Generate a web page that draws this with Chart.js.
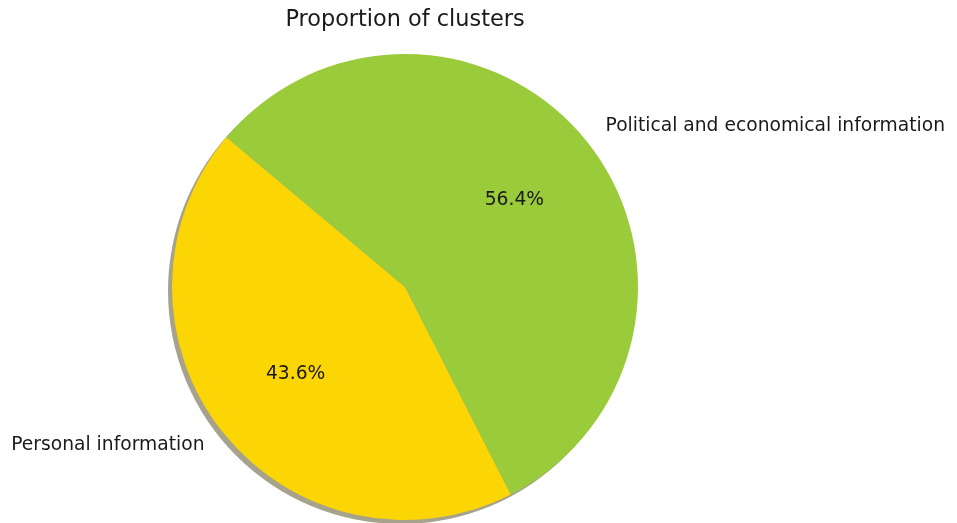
<!DOCTYPE html>
<html lang="en">
<head>
    <meta charset="UTF-8">
    <title>Proportion of clusters</title>
    <style>
        html, body { margin: 0; padding: 0; background: #ffffff; }
        #wrap { width: 957px; height: 523px; }
    </style>
</head>
<body>
    <div id="wrap"><canvas id="pieChart"></canvas></div>
    <script src="https://cdn.jsdelivr.net/npm/chart.js"></script>
    <script>
        // data
        const categories = ['Personal information', 'Political and economical information'];
        const shares = [43.6, 56.4];
        const sliceColors = ['#fcd505', '#9acb3b'];

        const FONT = "'DejaVu Sans', sans-serif";

        // grey drop shadow under the pie, offset left/down
        const shadowPlugin = {
            id: 'pieShadow',
            beforeDatasetsDraw(chart) {
                const arc = chart.getDatasetMeta(0).data[0];
                if (!arc) return;
                const ctx = chart.ctx;
                ctx.save();
                ctx.fillStyle = '#a7a28c';
                ctx.beginPath();
                ctx.arc(arc.x - 4, arc.y + 4, arc.outerRadius, 0, Math.PI * 2);
                ctx.fill();
                ctx.restore();
            }
        };

        // slice names outside (1.1 r) and percentages inside (0.6 r)
        const labelPlugin = {
            id: 'pieLabels',
            afterDatasetsDraw(chart) {
                const ctx = chart.ctx;
                const meta = chart.getDatasetMeta(0);
                ctx.save();
                ctx.fillStyle = '#1a1a1a';
                ctx.textBaseline = 'middle';
                ctx.font = '18.7px ' + FONT;
                meta.data.forEach((arc, i) => {
                    const mid = (arc.startAngle + arc.endAngle) / 2;
                    const r = arc.outerRadius;
                    const cx = Math.cos(mid), cy = Math.sin(mid);
                    ctx.textAlign = cx < 0 ? 'right' : 'left';
                    ctx.fillText(categories[i], arc.x + cx * r * 1.1, arc.y + cy * r * 1.1 - 1);
                    ctx.textAlign = 'center';
                    ctx.fillText(shares[i].toFixed(1) + '%', arc.x + cx * r * 0.6, arc.y + cy * r * 0.6);
                });
                ctx.restore();
            }
        };

        new Chart(document.getElementById('pieChart'), {
            type: 'pie',
            data: {
                labels: categories,
                datasets: [{
                    data: shares,
                    backgroundColor: sliceColors,
                    borderWidth: 0,
                    hoverOffset: 0
                }]
            },
            options: {
                responsive: true,
                maintainAspectRatio: false,
                animation: false,
                rotation: 153,
                events: [],
                layout: {
                    padding: { left: 172, right: 319, top: 0, bottom: 3 }
                },
                plugins: {
                    legend: { display: false },
                    tooltip: { enabled: false },
                    title: {
                        display: true,
                        text: 'Proportion of clusters',
                        color: '#1a1a1a',
                        font: { family: FONT, size: 22.4, weight: 'normal', lineHeight: 1.2 },
                        padding: { top: 6.6, bottom: 20.5 }
                    }
                }
            },
            plugins: [shadowPlugin, labelPlugin]
        });
    </script>
</body>
</html>
